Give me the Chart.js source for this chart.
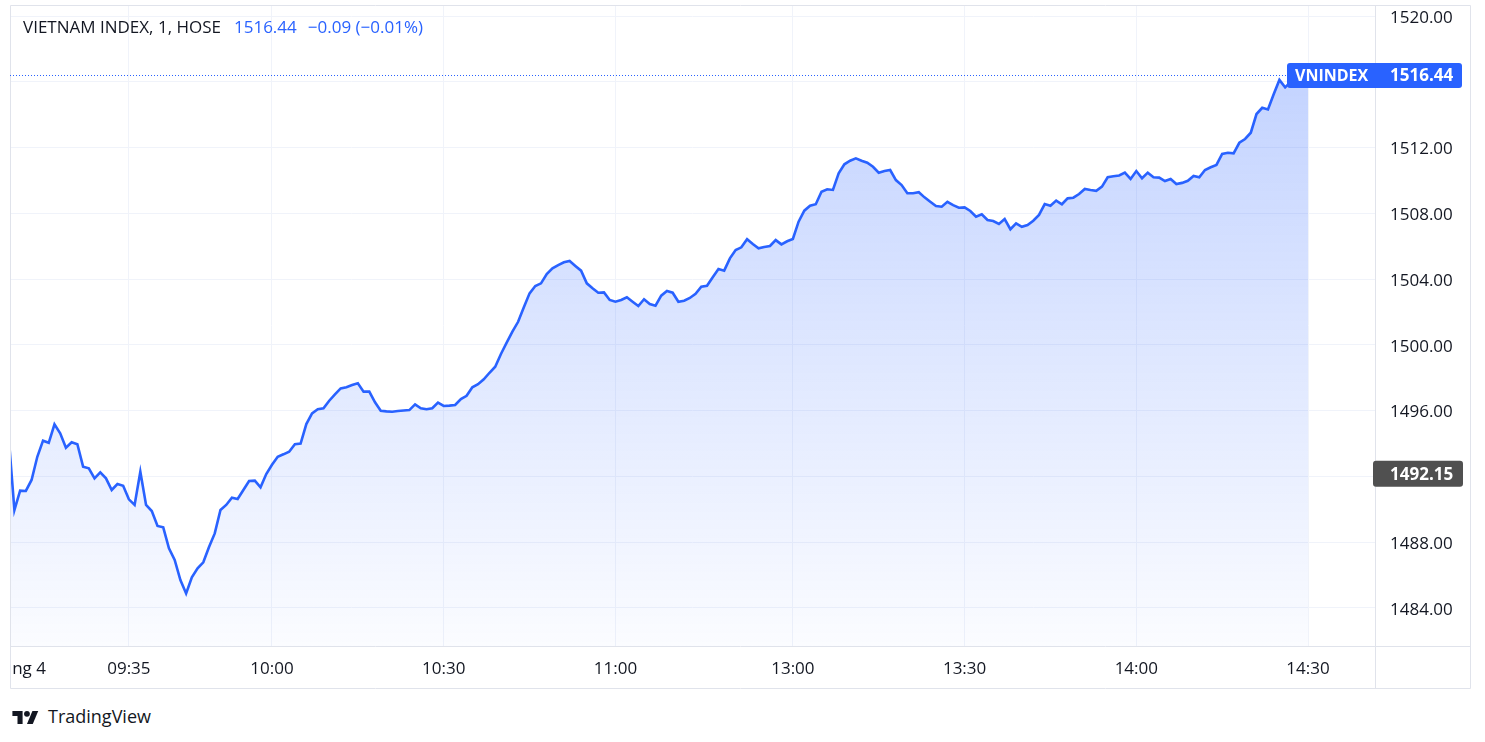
<!DOCTYPE html>
<html>
<head>
<meta charset="utf-8">
<script src="https://cdn.jsdelivr.net/npm/chart.js@4.4.1/dist/chart.umd.min.js"></script>
<style>
  body { margin: 0; background: #fff; font-family: "Open Sans", sans-serif; color: #131722; }
  #wrap { position: absolute; left: 10px; top: 5px; }
  #legend { position: absolute; left: 23px; top: 16px; font-size: 17px; line-height: 22px; white-space: nowrap; }
  #legend .v { color: #2962ff; }
  #brand { position: absolute; left: 12px; top: 704px; display: flex; align-items: center; }
  #brand span { font-size: 18px; margin-left: 9px; color: #131722; }
</style>
</head>
<body>
<div id="wrap"><canvas id="vnChart" width="1461" height="684"></canvas></div>
<div id="legend"></div>
<div id="brand">
  <svg width="27" height="16" viewBox="0 0 36 22">
    <path d="M14 22H7V11H0V4h14z" fill="#131722"/>
    <circle cx="20" cy="8" r="4" fill="#131722"/>
    <path d="M28 22h-8l7.5-18h8z" fill="#131722"/>
  </svg>
  <span>TradingView</span>
</div>
<script>
// VN-Index, 1 minute bars
const symbolName = 'VIETNAM INDEX, 1, HOSE';
const seriesName = 'VNINDEX';
const lastPrice = 1516.44;
const change = -0.09;
const changePct = -0.01;
const prevClose = 1492.15;

// trading sessions (lunch break is skipped on the time axis)
const sessions = [['09:14', '11:30'], ['13:00', '14:30']];

const morningValues = [
  1494.40, 1489.95, 1491.13, 1491.11, 1491.78, 1493.19, 1494.17, 1494.04, 1495.16, 1494.62,
  1493.74, 1494.07, 1493.95, 1492.59, 1492.49, 1491.88, 1492.24, 1491.88, 1491.17, 1491.53,
  1491.43, 1490.60, 1490.26, 1492.28, 1490.26, 1489.89, 1488.98, 1488.90, 1487.62, 1486.91,
  1485.69, 1484.88, 1485.86, 1486.41, 1486.77, 1487.70, 1488.53, 1489.95, 1490.26, 1490.70,
  1490.62, 1491.17, 1491.72, 1491.74, 1491.33, 1492.14, 1492.70, 1493.19, 1493.34, 1493.50,
  1493.95, 1493.99, 1495.18, 1495.83, 1496.08, 1496.14, 1496.60, 1496.99, 1497.35, 1497.42,
  1497.55, 1497.66, 1497.15, 1497.15, 1496.50, 1495.99, 1495.95, 1495.93, 1495.97, 1496.00,
  1496.03, 1496.38, 1496.14, 1496.08, 1496.14, 1496.48, 1496.28, 1496.30, 1496.34, 1496.70,
  1496.90, 1497.42, 1497.60, 1497.90, 1498.30, 1498.67, 1499.44, 1500.13, 1500.80, 1501.40,
  1502.28, 1503.13, 1503.58, 1503.74, 1504.31, 1504.65, 1504.85, 1505.02, 1505.10, 1504.80,
  1504.51, 1503.74, 1503.44, 1503.17, 1503.19, 1502.73, 1502.62, 1502.73, 1502.89, 1502.62,
  1502.36, 1502.77, 1502.48, 1502.38, 1502.99, 1503.27, 1503.17, 1502.62, 1502.68, 1502.85,
  1503.10, 1503.53, 1503.59, 1504.11, 1504.61, 1504.51, 1505.26, 1505.77, 1505.93, 1506.42,
  1506.13, 1505.87, 1505.95, 1506.01, 1506.37, 1506.11, 1506.30
];
const afternoonValues = [
  1506.44, 1507.49, 1508.16, 1508.46, 1508.55, 1509.31, 1509.46, 1509.42, 1510.43, 1510.98,
  1511.20, 1511.34, 1511.20, 1511.08, 1510.83, 1510.47, 1510.57, 1510.63, 1510.02, 1509.72,
  1509.22, 1509.22, 1509.28, 1508.97, 1508.70, 1508.44, 1508.40, 1508.70, 1508.50, 1508.34,
  1508.36, 1508.14, 1507.79, 1507.94, 1507.59, 1507.53, 1507.35, 1507.65, 1507.03, 1507.39,
  1507.18, 1507.29, 1507.55, 1507.90, 1508.56, 1508.46, 1508.77, 1508.55, 1508.91, 1508.95,
  1509.17, 1509.48, 1509.42, 1509.37, 1509.62, 1510.19, 1510.25, 1510.30, 1510.47, 1510.09,
  1510.57, 1510.13, 1510.47, 1510.19, 1510.17, 1509.96, 1510.09, 1509.78, 1509.85, 1509.98,
  1510.27, 1510.19, 1510.63, 1510.80, 1510.94, 1511.61, 1511.68, 1511.65, 1512.29, 1512.52,
  1512.90, 1514.04, 1514.42, 1514.32, 1515.24, 1516.11, 1515.66, 1516.00, 1516.20, 1516.30,
  1516.44
];

const tickTimes = ['09:15', '09:35', '10:00', '10:30', '11:00', '13:00', '13:30', '14:00', '14:30'];
const tickLabels = ['Tháng 4', '09:35', '10:00', '10:30', '11:00', '13:00', '13:30', '14:00', '14:30'];
const yTicks = [1484, 1488, 1492, 1496, 1500, 1504, 1508, 1512, 1516, 1520];

const FONT = '"Open Sans", sans-serif';
const TEXT = '#131722';
const BLUE = '#2962ff';

function toMin(t) {
  const p = t.split(':');
  return parseInt(p[0]) * 60 + parseInt(p[1]);
}
// bar index on the time axis: minutes since 09:00, lunch break removed
function barIndex(t) {
  const m = toMin(t) - 540;
  return m >= 240 ? m - 89 : m;
}

const times = [];
sessions.forEach(s => {
  for (let m = toMin(s[0]); m <= toMin(s[1]); m++) {
    times.push(String(Math.floor(m / 60)).padStart(2, '0') + ':' + String(m % 60).padStart(2, '0'));
  }
});
const values = morningValues.concat(afternoonValues);
const points = values.map((v, i) => ({ x: barIndex(times[i]), y: v }));

document.getElementById('legend').innerHTML =
  symbolName +
  '<span class="v" style="margin-left:13px">' + lastPrice.toFixed(2) + '</span>' +
  '<span class="v" style="margin-left:11px">' + (change < 0 ? '\u2212' : '+') + Math.abs(change).toFixed(2) +
  ' (' + (changePct < 0 ? '\u2212' : '+') + Math.abs(changePct).toFixed(2) + '%)</span>';

function roundRect(ctx, x, y, w, h, r) {
  ctx.beginPath();
  ctx.moveTo(x + r, y);
  ctx.lineTo(x + w - r, y);
  ctx.quadraticCurveTo(x + w, y, x + w, y + r);
  ctx.lineTo(x + w, y + h - r);
  ctx.quadraticCurveTo(x + w, y + h, x + w - r, y + h);
  ctx.lineTo(x + r, y + h);
  ctx.quadraticCurveTo(x, y + h, x, y + h - r);
  ctx.lineTo(x, y + r);
  ctx.quadraticCurveTo(x, y, x + r, y);
  ctx.closePath();
}

const overlay = {
  id: 'overlay',
  afterDraw(chart) {
    const { ctx, chartArea: a, scales: { y } } = chart;
    const W = chart.width, H = chart.height;
    ctx.save();
    // pane frame
    ctx.strokeStyle = '#e0e3eb';
    ctx.lineWidth = 1;
    ctx.beginPath();
    ctx.rect(0.5, 0.5, W - 1, H - 1);
    ctx.moveTo(a.right + 0.5, 0); ctx.lineTo(a.right + 0.5, H);
    ctx.moveTo(0, a.bottom + 0.5); ctx.lineTo(W, a.bottom + 0.5);
    ctx.stroke();

    // last price line + label
    const labelLeft = 1277;
    const yl = Math.round(y.getPixelForValue(lastPrice)) + 0.5;
    ctx.strokeStyle = BLUE;
    ctx.setLineDash([1, 2]);
    ctx.beginPath(); ctx.moveTo(a.left, yl); ctx.lineTo(labelLeft, yl); ctx.stroke();
    ctx.setLineDash([]);
    ctx.fillStyle = BLUE;
    roundRect(ctx, labelLeft, yl - 12.5, 1452 - labelLeft, 25, 3);
    ctx.fill();
    ctx.fillStyle = '#fff';
    ctx.font = 'bold 16px ' + FONT;
    ctx.textBaseline = 'middle';
    ctx.textAlign = 'left';
    ctx.fillText(seriesName, labelLeft + 8, yl + 1);
    ctx.font = 'bold 17px ' + FONT;
    ctx.fillText(lastPrice.toFixed(2), a.right + 15, yl + 1);

    // previous close label
    const yp = y.getPixelForValue(prevClose);
    ctx.fillStyle = '#505050';
    roundRect(ctx, a.right - 2, yp - 13, 90, 26, 3);
    ctx.fill();
    ctx.fillStyle = '#fff';
    ctx.fillText(prevClose.toFixed(2), a.right + 15, yp + 1);
    ctx.restore();
  }
};

const ctx = document.getElementById('vnChart').getContext('2d');
new Chart(ctx, {
  type: 'line',
  data: {
    datasets: [{
      label: seriesName,
      data: points,
      borderColor: BLUE,
      borderWidth: 2.6,
      pointRadius: 0,
      tension: 0,
      fill: 'start',
      backgroundColor: (c) => {
        const { chart } = c;
        const area = chart.chartArea;
        if (!area) return 'rgba(41,98,255,0.1)';
        const top = chart.scales.y.getPixelForValue(Math.max(...values));
        const g = chart.ctx.createLinearGradient(0, top, 0, area.bottom);
        g.addColorStop(0, 'rgba(41,98,255,0.28)');
        g.addColorStop(1, 'rgba(41,98,255,0.02)');
        return g;
      }
    }]
  },
  options: {
    responsive: false,
    animation: false,
    layout: { padding: 0 },
    plugins: { legend: { display: false }, tooltip: { enabled: false } },
    scales: {
      x: {
        type: 'linear',
        min: 14.23,
        max: 252.7,
        afterBuildTicks: (s) => { s.ticks = tickTimes.map(t => ({ value: barIndex(t) })); },
        afterFit: (s) => { s.height = 43; s.paddingLeft = 0; s.paddingRight = 0; },
        border: { display: false },
        grid: {
          drawTicks: false,
          color: (c) => (c.tick && c.tick.value === barIndex(tickTimes[0])) ? 'rgba(0,0,0,0)' : '#f0f3fa'
        },
        ticks: {
          autoSkip: false,
          maxRotation: 0,
          padding: 13,
          color: TEXT,
          font: { family: FONT, size: 17 },
          callback: (v) => {
            const i = tickTimes.findIndex(t => barIndex(t) === v);
            return i >= 0 ? tickLabels[i] : '';
          }
        }
      },
      y: {
        position: 'right',
        min: 1481.68,
        max: 1520.67,
        afterBuildTicks: (s) => { s.ticks = yTicks.map(v => ({ value: v })); },
        afterFit: (s) => { s.width = 96; s.paddingTop = 0; s.paddingBottom = 0; },
        border: { display: false },
        grid: { drawTicks: false, color: '#f0f3fa' },
        ticks: {
          padding: 15,
          labelOffset: 2,
          color: TEXT,
          font: { family: FONT, size: 17 },
          // labels under the price markers are hidden, as on the chart
          callback: (v) => (Math.abs(v - lastPrice) < 1.2 || Math.abs(v - prevClose) < 1.2) ? '' : Number(v).toFixed(2)
        }
      }
    }
  },
  plugins: [overlay]
});
</script>
</body>
</html>
